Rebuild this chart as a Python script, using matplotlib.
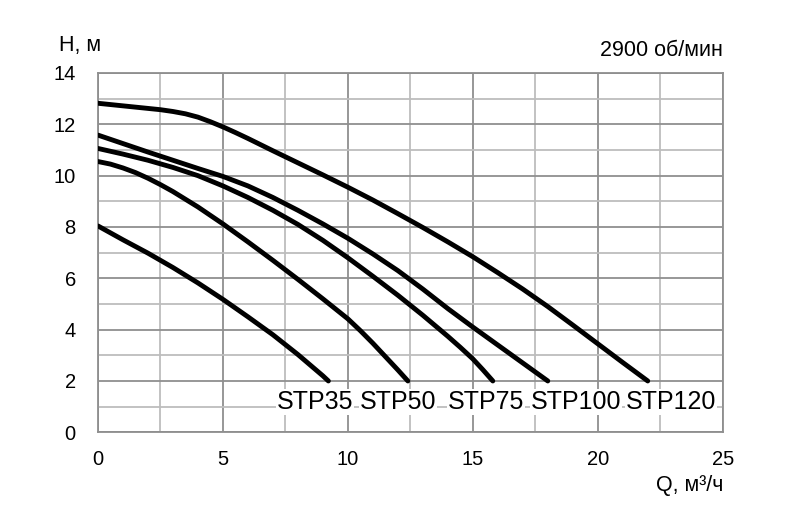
import matplotlib
matplotlib.use("Agg")
import matplotlib.pyplot as plt
from matplotlib.ticker import MultipleLocator

plt.rcParams['font.family'] = ['Liberation Sans', 'DejaVu Sans']

# Data (Q in m3/h, H in m)
q_stp120 = [0, 1, 2, 2.5, 3, 3.5, 4, 4.5, 5, 5.5, 6, 7, 8, 9, 10, 11, 12, 13, 14, 15,
            16, 17, 18, 19, 20, 21, 22.0]
h_stp120 = [12.82, 12.72, 12.62, 12.57, 12.5, 12.41, 12.28, 12.1, 11.9, 11.68, 11.45,
            10.97, 10.5, 10.03, 9.55, 9.05, 8.52, 7.98, 7.42, 6.84, 6.22, 5.58, 4.9,
            4.18, 3.45, 2.72, 2.0]

q_stp100 = [0, 1, 2, 3, 4, 5, 6, 7, 8, 9, 10, 11, 12, 13, 14, 15, 16, 17, 18.0]
h_stp100 = [11.58, 11.25, 10.92, 10.6, 10.28, 9.97, 9.6, 9.15, 8.65, 8.12, 7.56, 6.95,
            6.3, 5.58, 4.82, 4.1, 3.4, 2.7, 2.0]

q_stp75 = [0, 1, 2, 3, 4, 5, 6, 7, 8, 9, 10, 11, 12, 13, 14, 14.5, 15, 15.4, 15.8]
h_stp75 = [11.06, 10.84, 10.6, 10.32, 10.0, 9.6, 9.15, 8.65, 8.1, 7.48, 6.8, 6.08,
           5.34, 4.56, 3.74, 3.31, 2.86, 2.44, 2.0]

q_stp50 = [0, 0.5, 1, 1.5, 2, 2.5, 3, 4, 5, 6, 7, 8, 9, 10, 10.5, 11, 11.5, 12, 12.4]
h_stp50 = [10.55, 10.45, 10.3, 10.12, 9.9, 9.65, 9.38, 8.78, 8.12, 7.42, 6.7, 5.96,
           5.2, 4.42, 3.96, 3.47, 2.95, 2.43, 2.0]

q_stp35 = [0, 1, 2, 3, 4, 5, 6, 7, 8, 9, 9.22]
h_stp35 = [8.04, 7.5, 6.98, 6.42, 5.82, 5.18, 4.5, 3.8, 3.03, 2.2, 2.0]

series_names = ["STP35", "STP50", "STP75", "STP100", "STP120"]
x_ticks = [0, 5, 10, 15, 20, 25]
y_ticks = [0, 2, 4, 6, 8, 10, 12, 14]

# label anchor positions (data coords)
label_x = [8.68, 12.0, 15.52, 19.12, 22.92]
label_y = 1.18

fig = plt.figure(figsize=(8.05, 5.31), dpi=100)
ax = fig.add_axes([98 / 805, 1 - 432.3 / 531, 624.7 / 805, 359.3 / 531])

ax.set_xlim(0, 25)
ax.set_ylim(0, 14)
ax.set_xticks(x_ticks)
ax.set_yticks(y_ticks)
ax.xaxis.set_minor_locator(MultipleLocator(2.5))
ax.yaxis.set_minor_locator(MultipleLocator(1))

major_col = '#8f8f8f'
minor_col = '#bdbdbd'
ax.grid(which='minor', color=minor_col, linewidth=1.3, zorder=0)
ax.grid(which='major', color=major_col, linewidth=1.3, zorder=0)
ax.set_axisbelow(True)
for s in ax.spines.values():
    s.set_color(major_col)
    s.set_linewidth(1.3)

ax.tick_params(which='both', length=0)
ax.tick_params(axis='x', pad=13, labelsize=14.5)
ax.tick_params(axis='y', pad=16, labelsize=14.5)

curves = [(q_stp35, h_stp35), (q_stp50, h_stp50), (q_stp75, h_stp75),
          (q_stp100, h_stp100), (q_stp120, h_stp120)]
for q, h in curves:
    ax.plot(q, h, color='black', linewidth=3.5, solid_capstyle='round',
            solid_joinstyle='round', zorder=3)

for name, lx in zip(series_names, label_x):
    ax.text(lx, label_y, name, ha='center', va='center', fontsize=18,
            color='black', zorder=4,
            bbox=dict(facecolor='white', edgecolor='none', pad=0.5))

fig.text(59 / 805, 1 - 46 / 531, "H, м", ha='left', va='center', fontsize=15.5)
fig.text(723 / 805, 1 - 51 / 531, "2900 об/мин", ha='right', va='center', fontsize=15.5)
fig.text(723 / 805, 1 - 486 / 531, "Q, м³/ч", ha='right', va='center', fontsize=15.5)

fig.savefig("out.png", dpi=100)
